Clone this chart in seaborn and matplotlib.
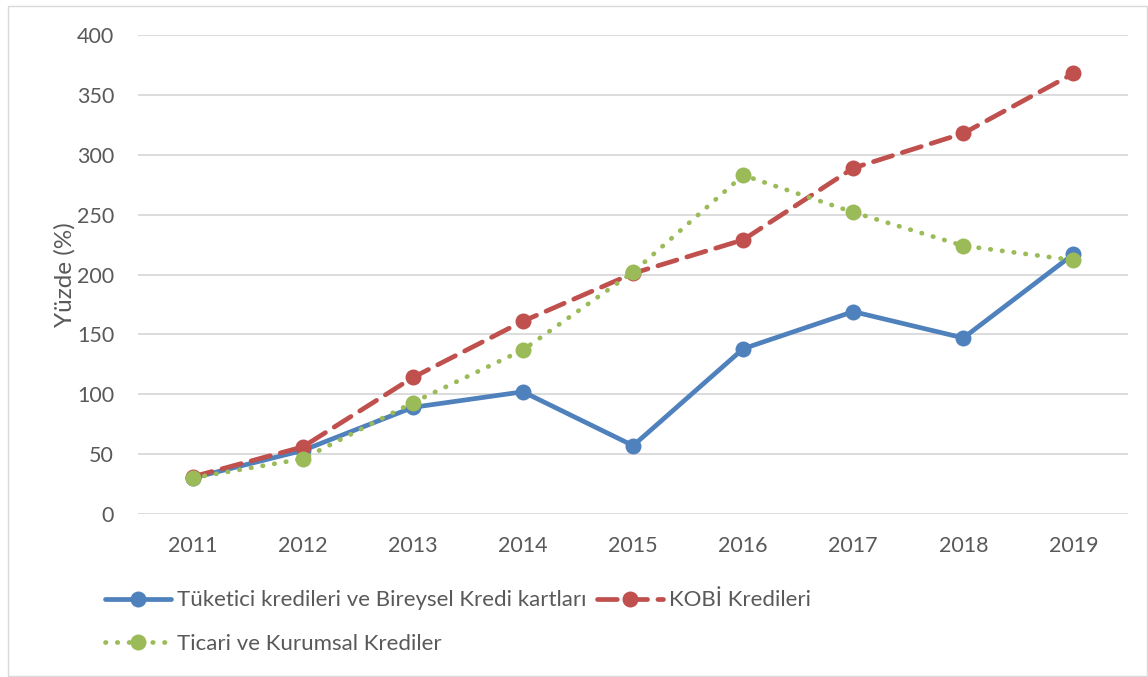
import pandas as pd
import seaborn as sns
import matplotlib.pyplot as plt
from matplotlib.patches import Rectangle

# Veriler
yillar = ['2011', '2012', '2013', '2014', '2015', '2016', '2017', '2018', '2019']
tuketici = [30, 53, 89, 102, 57, 138, 169, 147, 217]
kobi = [31, 56, 114, 161, 201, 229, 289, 318, 368]
ticari = [30, 46, 93, 137, 202, 283, 252, 224, 212]

seriler = ['Tüketici kredileri ve Bireysel Kredi kartları', 'KOBİ Kredileri', 'Ticari ve Kurumsal Krediler']
renkler = ['#4F81BD', '#C0504D', '#9BBB59']
cizgiler = ['-', (0, (4.2, 2.2)), (0, (0.1, 2.4))]

df = pd.DataFrame({'Yil': yillar * 3,
                   'Deger': tuketici + kobi + ticari,
                   'Seri': [seriler[0]] * 9 + [seriler[1]] * 9 + [seriler[2]] * 9})

sns.set_style('white')
plt.rcParams['font.family'] = ['Lato', 'DejaVu Sans']
gri = '#595959'

fig = plt.figure(figsize=(11.48, 6.77), dpi=100)
ax = fig.add_axes([0.120, 0.241, 0.863, 0.707])

for seri, renk, ls in zip(seriler, renkler, cizgiler):
    d = df[df['Seri'] == seri]
    sns.lineplot(data=d, x='Yil', y='Deger', ax=ax, color=renk, linewidth=3.4,
                 marker='o', markersize=11.5, markeredgewidth=0, label=seri,
                 sort=False)
    ax.lines[-1].set_linestyle(ls)
    ax.lines[-1].set_dash_capstyle('round')

ax.set_ylim(0, 400)
ax.set_xlim(-0.5, 8.5)
ax.set_yticks(range(0, 401, 50))
ax.yaxis.grid(True, color='#D9D9D9', linewidth=1.3)
ax.set_axisbelow(True)
for s in ax.spines.values():
    s.set_visible(False)
ax.tick_params(axis='both', labelsize=15.5, colors=gri, length=0)
ax.tick_params(axis='x', pad=16)
ax.tick_params(axis='y', pad=17)
ax.set_xlabel('')
ax.set_ylabel('Yüzde (%)', fontsize=17.5, color=gri, labelpad=1)

# Legend: ilk satir mavi + kirmizi, ikinci satir yesil
h, l = ax.get_legend_handles_labels()
sira = [0, 2, 1]
ax.legend([h[i] for i in sira], [l[i] for i in sira], ncol=2, frameon=False,
          loc='upper left', bbox_to_anchor=(-0.053, -0.118), fontsize=16,
          labelcolor=gri, handlelength=2.95, handletextpad=0.3,
          columnspacing=0.45, labelspacing=1.05)

fig.patches.append(Rectangle((0.007, 0.002), 0.992, 0.989, transform=fig.transFigure,
                             fill=False, edgecolor='#D9D9D9', linewidth=1))

plt.savefig('out.png', dpi=100)
